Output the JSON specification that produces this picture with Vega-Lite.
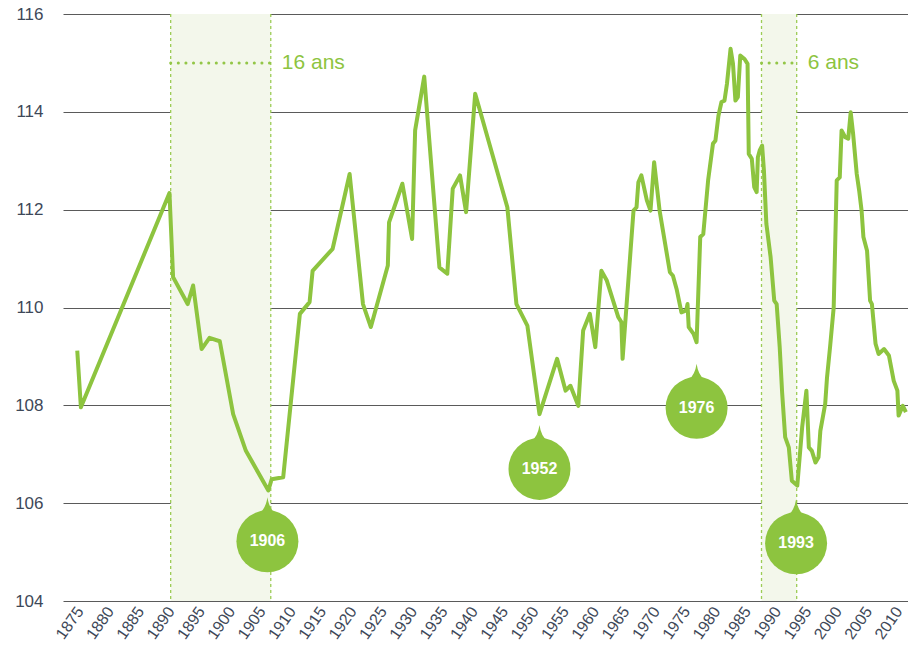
{
  "$schema": "https://vega.github.io/schema/vega-lite/v6.json",
  "width": 845,
  "height": 587,
  "autosize": {"type": "none"},
  "padding": {"left": 63, "top": 14, "right": 0, "bottom": 61},
  "background": "white",
  "config": {
    "view": {"stroke": null},
    "font": "Liberation Sans",
    "axis": {"labelOverlap": false},
    "axisX": {"labelOverlap": false, "labelAngle": -55, "labelAlign": "right", "labelBaseline": "middle", "labelPadding": 7, "ticks": false, "domain": false, "grid": false, "labelFontSize": 16, "labelColor": "#3e4858", "labelFont": "Liberation Sans", "labelBound": false, "labelFlush": false},
    "axisY": {"ticks": false, "domain": false, "grid": true, "gridColor": "#5a5a5a", "gridWidth": 1, "labelPadding": 20, "labelFontSize": 17, "labelColor": "#3e4858", "labelFont": "Liberation Sans"}
  },
  "datasets": {
    "series": [
      {"year": 1874.6, "value": 109.12}, {"year": 1875.2, "value": 107.96},
      {"year": 1889.8, "value": 112.34}, {"year": 1890.4, "value": 110.62},
      {"year": 1892.8, "value": 110.07}, {"year": 1893.7, "value": 110.45},
      {"year": 1895.1, "value": 109.15}, {"year": 1896.4, "value": 109.38},
      {"year": 1898.1, "value": 109.31}, {"year": 1900.3, "value": 107.82},
      {"year": 1902.4, "value": 107.07}, {"year": 1906.1, "value": 106.26},
      {"year": 1906.65, "value": 106.49}, {"year": 1908.55, "value": 106.53},
      {"year": 1911.3, "value": 109.87}, {"year": 1912.9, "value": 110.11},
      {"year": 1913.4, "value": 110.75}, {"year": 1916.7, "value": 111.2},
      {"year": 1919.5, "value": 112.73}, {"year": 1921.7, "value": 110.07},
      {"year": 1923.0, "value": 109.6}, {"year": 1925.8, "value": 110.86},
      {"year": 1926.0, "value": 111.74}, {"year": 1928.2, "value": 112.53},
      {"year": 1929.8, "value": 111.4}, {"year": 1930.3, "value": 113.62},
      {"year": 1931.8, "value": 114.72}, {"year": 1934.3, "value": 110.82},
      {"year": 1935.6, "value": 110.69}, {"year": 1936.5, "value": 112.43},
      {"year": 1937.7, "value": 112.7}, {"year": 1938.7, "value": 111.95},
      {"year": 1940.2, "value": 114.37}, {"year": 1945.5, "value": 112.05},
      {"year": 1947.0, "value": 110.07}, {"year": 1948.8, "value": 109.63},
      {"year": 1950.8, "value": 107.82}, {"year": 1953.7, "value": 108.95},
      {"year": 1955.1, "value": 108.3}, {"year": 1955.9, "value": 108.4},
      {"year": 1957.2, "value": 107.99}, {"year": 1958.0, "value": 109.53},
      {"year": 1959.1, "value": 109.87}, {"year": 1960.0, "value": 109.19},
      {"year": 1961.0, "value": 110.75}, {"year": 1961.9, "value": 110.55},
      {"year": 1963.8, "value": 109.8}, {"year": 1964.3, "value": 109.7},
      {"year": 1964.5, "value": 108.95}, {"year": 1966.3, "value": 111.98},
      {"year": 1966.8, "value": 112.05}, {"year": 1967.1, "value": 112.56},
      {"year": 1967.6, "value": 112.7}, {"year": 1968.5, "value": 112.19},
      {"year": 1969.1, "value": 111.98}, {"year": 1969.7, "value": 112.97},
      {"year": 1970.6, "value": 111.98}, {"year": 1972.3, "value": 110.72},
      {"year": 1972.8, "value": 110.65}, {"year": 1973.4, "value": 110.38},
      {"year": 1974.2, "value": 109.9}, {"year": 1975.0, "value": 109.94},
      {"year": 1975.2, "value": 110.07}, {"year": 1975.4, "value": 109.6},
      {"year": 1976.2, "value": 109.46}, {"year": 1976.7, "value": 109.29},
      {"year": 1977.3, "value": 111.44}, {"year": 1977.8, "value": 111.5},
      {"year": 1978.6, "value": 112.6}, {"year": 1979.4, "value": 113.35},
      {"year": 1979.8, "value": 113.41}, {"year": 1980.3, "value": 113.92},
      {"year": 1980.8, "value": 114.2}, {"year": 1981.3, "value": 114.23},
      {"year": 1981.7, "value": 114.57}, {"year": 1982.3, "value": 115.29},
      {"year": 1982.7, "value": 114.98}, {"year": 1983.1, "value": 114.23},
      {"year": 1983.5, "value": 114.3}, {"year": 1983.9, "value": 115.15},
      {"year": 1984.6, "value": 115.08}, {"year": 1985.1, "value": 114.98},
      {"year": 1985.3, "value": 113.14}, {"year": 1985.8, "value": 113.04},
      {"year": 1986.2, "value": 112.46}, {"year": 1986.6, "value": 112.36},
      {"year": 1986.8, "value": 113.07}, {"year": 1987.1, "value": 113.21},
      {"year": 1987.5, "value": 113.31}, {"year": 1987.8, "value": 112.8},
      {"year": 1988.2, "value": 111.71}, {"year": 1988.9, "value": 111.03},
      {"year": 1989.5, "value": 110.14}, {"year": 1989.9, "value": 110.07},
      {"year": 1990.4, "value": 109.19}, {"year": 1990.8, "value": 108.26},
      {"year": 1991.3, "value": 107.35}, {"year": 1991.9, "value": 107.14},
      {"year": 1992.4, "value": 106.46}, {"year": 1993.3, "value": 106.36},
      {"year": 1994.1, "value": 107.55}, {"year": 1994.8, "value": 108.3},
      {"year": 1995.2, "value": 107.14}, {"year": 1995.7, "value": 107.07},
      {"year": 1996.3, "value": 106.83}, {"year": 1996.8, "value": 106.94},
      {"year": 1997.1, "value": 107.48}, {"year": 1997.6, "value": 107.82},
      {"year": 1997.9, "value": 108.03}, {"year": 1998.2, "value": 108.57},
      {"year": 1998.7, "value": 109.19}, {"year": 1999.3, "value": 110.0},
      {"year": 1999.8, "value": 112.6}, {"year": 2000.3, "value": 112.66},
      {"year": 2000.6, "value": 113.62}, {"year": 2001.2, "value": 113.48},
      {"year": 2001.7, "value": 113.45}, {"year": 2002.1, "value": 113.99},
      {"year": 2002.5, "value": 113.55}, {"year": 2003.1, "value": 112.73},
      {"year": 2003.5, "value": 112.39}, {"year": 2003.9, "value": 111.98},
      {"year": 2004.2, "value": 111.44}, {"year": 2004.8, "value": 111.16},
      {"year": 2005.3, "value": 110.14}, {"year": 2005.6, "value": 110.07},
      {"year": 2006.2, "value": 109.26}, {"year": 2006.7, "value": 109.05},
      {"year": 2007.6, "value": 109.15}, {"year": 2008.4, "value": 109.02},
      {"year": 2009.2, "value": 108.5}, {"year": 2009.8, "value": 108.3},
      {"year": 2010.0, "value": 107.79}, {"year": 2010.7, "value": 107.99},
      {"year": 2011.2, "value": 107.86}
    ],
    "bands": [
      {"year": 1890, "end": 1906.5, "value": 115},
      {"year": 1987.4, "end": 1993.2, "value": 115}
    ],
    "bandLabels": [
      {"year": 1906.5, "value": 115, "label": "16 ans"},
      {"year": 1993.2, "value": 115, "label": "6 ans"}
    ],
    "edges": [
      {"year": 1890}, {"year": 1906.5}, {"year": 1987.4}, {"year": 1993.2}
    ],
    "balloons": [
      {"year": 1905.95, "value": 105.22, "label": "1906"},
      {"year": 1950.8, "value": 106.7, "label": "1952"},
      {"year": 1976.7, "value": 107.95, "label": "1976"},
      {"year": 1993.1, "value": 105.18, "label": "1993"}
    ]
  },
  "encoding": {
    "x": {"field": "year", "type": "quantitative", "scale": {"domain": [1872.25, 2011.55], "nice": false, "zero": false},
      "axis": {"values": [1875,1880,1885,1890,1895,1900,1905,1910,1915,1920,1925,1930,1935,1940,1945,1950,1955,1960,1965,1970,1975,1980,1985,1990,1995,2000,2005,2010],
        "format": "d", "title": null, "labelOverlap": false}}
  },
  "layer": [
    {
      "data": {"name": "series"},
      "mark": {"type": "line", "opacity": 0},
      "encoding": {
        "y": {"field": "value", "type": "quantitative", "scale": {"domain": [104, 116], "nice": false, "zero": false},
          "axis": {"values": [104,106,108,110,112,114,116], "title": null}}
      }
    },
    {
      "data": {"name": "bands"},
      "mark": {"type": "rect", "color": "#f3f7eb"},
      "encoding": {
        "x2": {"field": "end"}
      }
    },
    {
      "data": {"name": "edges"},
      "mark": {"type": "rule", "color": "#9ccc55", "strokeWidth": 1.3, "strokeDash": [3, 3]},
      "encoding": {}
    },
    {
      "data": {"name": "bands"},
      "mark": {"type": "rule", "color": "#93c647", "strokeWidth": 3, "strokeDash": [0.1, 7.5], "strokeCap": "round"},
      "encoding": {
        "x2": {"field": "end"},
        "y": {"field": "value", "type": "quantitative"}
      }
    },
    {
      "data": {"name": "bandLabels"},
      "mark": {"type": "text", "color": "#8dc43f", "fontSize": 21, "align": "left", "baseline": "middle", "dx": 11, "font": "Liberation Sans"},
      "encoding": {
        "y": {"field": "value", "type": "quantitative"},
        "text": {"field": "label"}
      }
    },
    {
      "data": {"name": "series"},
      "mark": {"type": "line", "color": "#8dc43f", "strokeWidth": 4, "strokeJoin": "round", "clip": true},
      "encoding": {
        "y": {"field": "value", "type": "quantitative"}
      }
    },
    {
      "data": {"name": "balloons"},
      "mark": {"type": "point", "filled": true, "opacity": 1, "color": "#8dc43f", "size": 256, "yOffset": -36,
        "shape": "M0,-1 Q0.2,0.4 1,1 L-1,1 Q-0.2,0.4 0,-1 Z"},
      "encoding": {
        "y": {"field": "value", "type": "quantitative"}
      }
    },
    {
      "data": {"name": "balloons"},
      "mark": {"type": "point", "filled": true, "opacity": 1, "color": "#8dc43f", "size": 3844, "shape": "circle"},
      "encoding": {
        "y": {"field": "value", "type": "quantitative"}
      }
    },
    {
      "data": {"name": "balloons"},
      "mark": {"type": "text", "color": "white", "fontSize": 16, "fontWeight": "bold", "align": "center", "baseline": "middle", "font": "Liberation Sans"},
      "encoding": {
        "y": {"field": "value", "type": "quantitative"},
        "text": {"field": "label"}
      }
    }
  ]
}
